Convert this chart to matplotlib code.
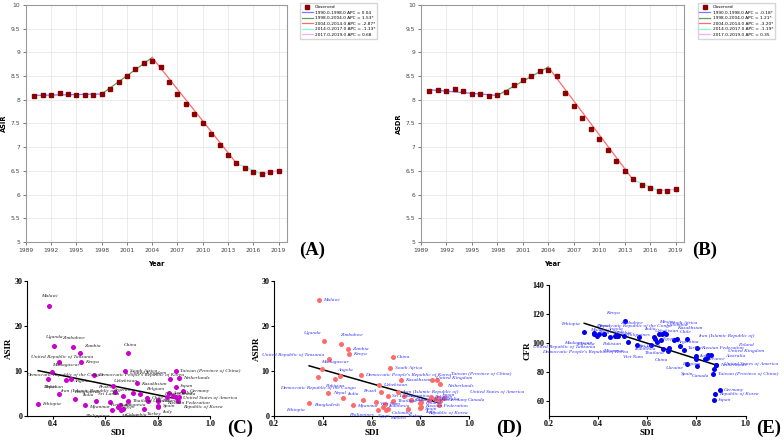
import numpy as np
import matplotlib.pyplot as plt

# ---- joinpoint trend data (A: ASIR, B: ASDR) ----
years = list(range(1990, 2020))
asir_obs = [8.07, 8.10, 8.10, 8.15, 8.12, 8.10, 8.09, 8.09, 8.12, 8.23,
            8.38, 8.50, 8.64, 8.77, 8.82, 8.70, 8.38, 8.12, 7.91, 7.69,
            7.50, 7.27, 7.05, 6.84, 6.67, 6.55, 6.48, 6.44, 6.47, 6.50]
asdr_obs = [8.19, 8.20, 8.19, 8.22, 8.18, 8.13, 8.11, 8.08, 8.10, 8.17,
            8.32, 8.41, 8.51, 8.61, 8.63, 8.49, 8.15, 7.86, 7.62, 7.38,
            7.17, 6.93, 6.71, 6.49, 6.32, 6.21, 6.14, 6.08, 6.08, 6.12]
joint_years = [1990, 1998, 2004, 2014, 2017, 2019]
asir_fit = [8.09, 8.12, 8.89, 6.66, 6.43, 6.51]
asdr_fit = [8.21, 8.09, 8.69, 6.31, 6.08, 6.11]
asir_apc = ['0.04', '1.53*', '-2.87*', '-1.13*', '0.68']
asdr_apc = ['-0.18*', '1.21*', '-3.20*', '-1.19*', '0.35']
seg_colors = ['#7b7bff', '#5e9e5e', '#ff6a6a', '#7fffd4', '#ffaaff']

# ---- country level data (C: ASIR, D: ASDR, E: CFR vs SDI) ----
countries = ['Malawi', 'Uganda', 'Zimbabwe', 'Zambia', 'Kenya',
             'United Republic of Tanzania', 'Madagascar', 'Angola',
             'Democratic Republic of the Congo', 'Ethiopia', 'Nepal', 'Pakistan',
             'Bangladesh', 'India', 'Myanmar', 'China', 'South Africa',
             "Democratic People's Republic of Korea", 'Taiwan (Province of China)',
             'Kazakhstan', 'Uzbekistan', 'Brazil', 'Sri Lanka', 'Viet Nam',
             'Philippines', 'Indonesia', 'Egypt', 'Mexico', 'Colombia', 'Thailand',
             'Iran (Islamic Republic of)', 'Argentina', 'Chile', 'Turkey', 'Ukraine',
             'Russian Federation', 'Poland', 'Italy', 'Spain', 'France', 'Belgium',
             'United Kingdom', 'Netherlands', 'Germany', 'Australia', 'Canada',
             'United States of America', 'Japan', 'Republic of Korea']
sdi = [0.385, 0.405, 0.476, 0.505, 0.508, 0.424, 0.397, 0.469, 0.382, 0.344,
       0.423, 0.449, 0.483, 0.565, 0.523, 0.686, 0.677, 0.558, 0.869, 0.722,
       0.630, 0.638, 0.666, 0.617, 0.627, 0.655, 0.648, 0.660, 0.667, 0.688,
       0.707, 0.733, 0.760, 0.748, 0.763, 0.803, 0.800, 0.800, 0.803, 0.835,
       0.843, 0.848, 0.880, 0.895, 0.860, 0.870, 0.880, 0.870, 0.876]
asir = [24.5, 15.6, 15.4, 14.1, 12.0, 11.9, 9.8, 8.3, 8.1, 2.7,
        4.8, 7.9, 3.8, 3.4, 2.3, 13.9, 9.9, 9.0, 10.0, 7.3,
        6.6, 5.2, 4.5, 3.0, 1.4, 2.4, 1.9, 1.4, 1.5, 3.2,
        5.0, 4.8, 3.9, 1.6, 3.4, 3.5, 3.2, 2.0, 2.1, 4.2,
        5.1, 8.2, 8.4, 5.5, 4.4, 4.2, 4.3, 6.4, 3.3]
asdr = [25.8, 16.6, 16.1, 14.9, 13.8, 12.6, 10.4, 8.9, 8.7, 2.9,
        5.1, 8.2, 4.0, 3.6, 2.4, 13.2, 10.6, 9.1, 8.0, 7.9,
        6.9, 5.3, 4.5, 3.0, 1.4, 2.6, 1.9, 1.3, 1.5, 3.3,
        5.3, 4.5, 3.6, 1.5, 3.6, 3.1, 2.9, 1.7, 1.9, 3.6,
        4.2, 7.9, 7.0, 3.9, 3.8, 3.5, 3.4, 4.0, 2.5]
cfr = [106, 106, 105, 105, 115, 106, 105, 105, 107, 107.5,
       106, 104.5, 105, 104, 100.5, 94.5, 106, 99, 79, 103,
       103, 100.5, 96, 99, 104, 102, 106, 106, 107, 97,
       102, 98, 103, 95, 86, 96.5, 91, 89, 84.5, 89,
       89.5, 92, 85, 68, 92, 82, 85, 61, 65]

# label placement tweaks per panel: (dx, dy) in points and horizontal alignment
labels_c = {'Malawi': (0, 7, 'center'), 'Uganda': (0, 6, 'center'),
            'Zimbabwe': (1, 6, 'center'), 'Zambia': (3, 5, 'left'),
            'China': (2, 6, 'center'), 'United Republic of Tanzania': (2, 4, 'center'),
            'Madagascar': (0, 5, 'left'), 'Democratic Republic of the Congo': (-16, 3, 'left'),
            'Nepal': (-2, 5, 'right'), 'Pakistan': (-2, -5, 'right'),
            'Angola': (2, -2, 'left'), 'Bangladesh': (0, 5, 'left'),
            'Uzbekistan': (0, 4, 'left'), 'India': (-2, 4, 'right'),
            'Philippines': (-2, -5, 'right'), 'Mexico': (0, -5, 'left'),
            'Colombia': (2, -4, 'left'), 'Brazil': (-2, 4, 'right'),
            'Sri Lanka': (-2, 1, 'right'), 'Viet Nam': (0, -2, 'left'),
            'Myanmar': (3, -1, 'left'), 'Belgium': (-3, 3, 'right'),
            'United Kingdom': (-3, 4, 'right'), 'Kazakhstan': (3, -1, 'left'),
            'Turkey': (2, -4, 'left'), 'Italy': (3, -4, 'left'),
            'Republic of Korea': (4, -4, 'left'), 'Russian Federation': (6, -2, 'left'),
            'United States of America': (3, -1, 'left'), 'Germany': (5, 0, 'left'),
            'Canada': (2, 2, 'left'), 'Australia': (-1, 2, 'left'),
            'Japan': (3, 1, 'left'), 'Argentina': (-4, 3, 'right'),
            'Iran (Islamic Republic of)': (-12, 2, 'right'), 'France': (-2, 2, 'left')}
labels_d = {'United Republic of Tanzania': (-3, 3, 'right'), 'Uganda': (-2, 6, 'right'),
            'Zimbabwe': (0, 6, 'left'), 'Madagascar': (-1, 5, 'left'),
            'Angola': (-2, 4, 'left'), 'Pakistan': (0, -5, 'center'),
            'Democratic Republic of the Congo': (0, -8, 'center'),
            'Bangladesh': (-2, -5, 'right'), 'Ethiopia': (-3, -5, 'right'),
            'India': (-3, 4, 'right'), 'Brazil': (-3, 1, 'right'),
            'Philippines': (-3, -4, 'right'), 'Egypt': (0, -6, 'center'),
            'Mexico': (3, -6, 'left'), 'Colombia': (3, -3, 'left'),
            'Indonesia': (2, -1, 'left'), 'Turkey': (0, -5, 'left'),
            'Italy': (3, -3, 'left'), 'Spain': (3, -1, 'left'),
            'Republic of Korea': (-8, -6, 'left'), 'Russian Federation': (3, -3, 'left'),
            'United States of America': (22, 6, 'left'), 'Canada': (22, 0, 'left'),
            'Germany': (3, -1, 'left'), 'Japan': (3, 2, 'left'),
            'Netherlands': (5, -1, 'left'), 'Taiwan (Province of China)': (10, 4, 'left'),
            'United Kingdom': (3, 2, 'left'), 'Myanmar': (3, -1, 'left'),
            'Viet Nam': (3, -1, 'left'), 'Nepal': (3, 0, 'left')}
labels_e = {'Kenya': (-3, 6, 'right'), 'Zimbabwe': (3, 9, 'left'),
            'Ethiopia': (-3, 6, 'right'), 'Uganda': (-3, -7, 'right'),
            'Democratic Republic of the Congo': (2, 5, 'left'),
            'Malawi': (-3, 3, 'left'), 'Madagascar': (-4, -5, 'right'),
            'United Republic of Tanzania': (-6, -9, 'right'),
            "Democratic People's Republic of Korea": (-6, -5, 'right'),
            'Nepal': (0, 6, 'center'), 'Angola': (0, 5, 'center'),
            'Zambia': (-6, 2, 'left'), 'Pakistan': (-6, -5, 'left'),
            'Bangladesh': (-14, 3, 'left'), 'India': (4, 6, 'left'),
            'Mexico': (-2, 9, 'left'), 'Colombia': (2, 6, 'left'),
            'South Africa': (3, 8, 'left'), 'Uzbekistan': (0, 6, 'left'),
            'Kazakhstan': (0, 8, 'left'), 'Chile': (-5, 5, 'left'),
            'Iran (Islamic Republic of)': (18, 3, 'left'), 'Poland': (30, 8, 'left'),
            'United Kingdom': (14, 3, 'left'), 'Russian Federation': (3, 0, 'left'),
            'Australia': (10, -1, 'left'), 'United States of America': (6, 1, 'left'),
            'Canada': (-3, -5, 'right'), 'Spain': (-3, -6, 'right'),
            'Brazil': (-3, -3, 'right'), 'Myanmar': (-3, -6, 'right'),
            'Indonesia': (-4, -6, 'right'), 'Viet Nam': (-6, -9, 'right'),
            'Thailand': (-3, -4, 'right'), 'China': (0, -6, 'right'),
            'Ukraine': (-3, -3, 'right'), 'Belgium': (-4, -4, 'right'),
            'Sri Lanka': (-2, 2, 'right'), 'Philippines': (-3, 2, 'right'),
            'Egypt': (2, -3, 'left'), 'Turkey': (3, 2, 'left'),
            'Argentina': (-2, 3, 'left'), 'Italy': (2, 2, 'left')}

serif = 'Liberation Serif'


def draw_trend(ax, obs, fit, apc, ylabel, leg_x):
    for i in range(len(joint_years) - 1):
        a, b = joint_years[i], joint_years[i + 1]
        ax.plot([a, b], [fit[i], fit[i + 1]], color=seg_colors[i], lw=0.9,
                label=f'{a:.1f}-{b:.1f} APC = {apc[i]}')
    ax.plot(years, obs, 's', color='#8b0000', ms=2.2, label='Observed', zorder=3)
    ax.set_xlim(1989, 2020)
    ax.set_ylim(5, 10)
    ax.set_xticks(range(1989, 2020, 3))
    ax.set_yticks(np.arange(5, 10.01, 0.5))
    ax.yaxis.set_major_formatter(plt.FormatStrFormatter('%g'))
    ax.tick_params(labelsize=4.3, colors='#444444', length=2, width=0.5, pad=2)
    ax.grid(color='#e8e8e8', lw=0.6)
    for s in ax.spines.values():
        s.set_color('#9a9a9a')
    ax.set_xlabel('Year', fontsize=4.8, fontweight='bold', labelpad=6)
    ax.set_ylabel(ylabel, fontsize=4.8, fontweight='bold', labelpad=3)
    h, l = ax.get_legend_handles_labels()
    fig.legend(h[-1:] + h[:-1], l[-1:] + l[:-1], loc='upper left',
               bbox_to_anchor=(leg_x, 0.997), fontsize=3.1, frameon=True,
               fancybox=False, edgecolor='#cccccc', borderpad=0.4,
               labelspacing=0.35, handlelength=2.6, handletextpad=0.5,
               numpoints=1)


def draw_scatter(ax, y, color, text_color, ylabel, xlim, ylim, yticks, tweaks):
    ax.scatter(sdi, y, s=13, color=color, zorder=3, linewidths=0)
    k, b = np.polyfit(sdi, y, 1)
    xs = np.array([min(sdi), 0.88])
    ax.plot(xs, k * xs + b, color='black', lw=1.1, zorder=2)
    for name, xv, yv in zip(countries, sdi, y):
        dx, dy, ha = tweaks.get(name, (3, 0, 'left'))
        ax.annotate(name, (xv, yv), xytext=(dx, dy), textcoords='offset points',
                    fontsize=3.9, style='italic', family=serif,
                    color=text_color, ha=ha, va='center')
    ax.set_xlim(*xlim)
    ax.set_ylim(*ylim)
    ax.set_xticks([0.2, 0.4, 0.6, 0.8, 1.0])
    ax.set_yticks(yticks)
    ax.set_xlim(*xlim)
    for s in ['top', 'right']:
        ax.spines[s].set_visible(False)
    ax.tick_params(length=2, width=0.8, labelsize=5.8, pad=1)
    for t in ax.get_xticklabels() + ax.get_yticklabels():
        t.set_family(serif)
        t.set_fontweight('bold')
    ax.set_xlabel('SDI', family=serif, fontweight='bold', fontsize=6.5, labelpad=1)
    ax.set_ylabel(ylabel, family=serif, fontweight='bold', fontsize=6.5, labelpad=1)


fig = plt.figure(figsize=(7.84, 4.4), dpi=100)

axA = fig.add_axes([0.033, 0.45, 0.333, 0.539])
draw_trend(axA, asir_obs, asir_fit, asir_apc, 'ASIR', 0.380)
axB = fig.add_axes([0.537, 0.45, 0.3355, 0.539])
draw_trend(axB, asdr_obs, asdr_fit, asdr_apc, 'ASDR', 0.887)

axC = fig.add_axes([0.034, 0.055, 0.234, 0.306])
draw_scatter(axC, asir, '#cc00cc', '#222222', 'ASIR', (0.3, 1.0), (0, 30),
             [0, 10, 20, 30], labels_c)
axD = fig.add_axes([0.3495, 0.055, 0.249, 0.306])
draw_scatter(axD, asdr, '#ff6b6b', '#3333ff', 'ASDR', (0.2, 1.0), (0, 30),
             [0, 10, 20, 30], labels_d)
axE = fig.add_axes([0.700, 0.055, 0.251, 0.297])
draw_scatter(axE, cfr, '#0000ee', '#3333ff', 'CFR', (0.2, 1.0), (50, 140),
             [60, 80, 100, 120, 140], labels_e)

for lab, x, y in [('(A)', 0.398, 0.432), ('(B)', 0.899, 0.432),
                  ('(C)', 0.306, 0.027), ('(D)', 0.65, 0.027), ('(E)', 0.981, 0.027)]:
    fig.text(x, y, lab, family=serif, fontweight='bold', fontsize=13.5,
             ha='center', va='center')

fig.savefig('out.png', dpi=100)
